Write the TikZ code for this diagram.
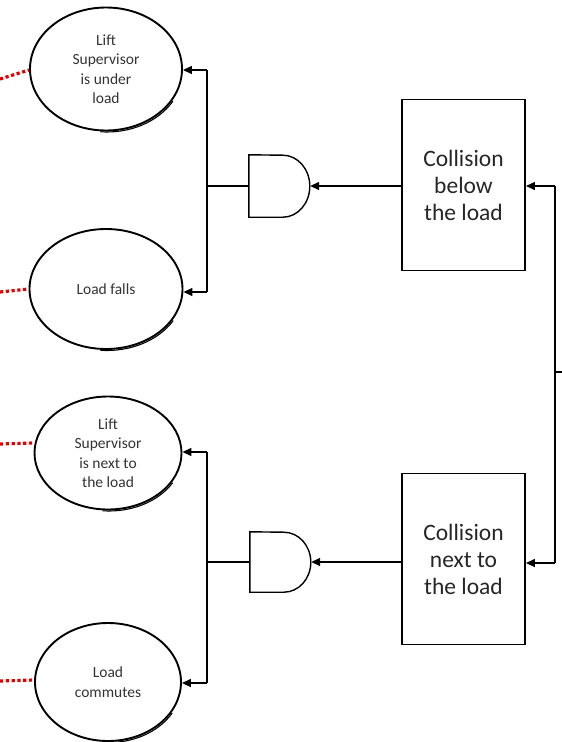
\documentclass[tikz,border=0pt]{standalone}
\usepackage{fontspec}
\setmainfont{Carlito}
\usetikzlibrary{shapes.geometric,arrows.meta,calc}
\begin{document}
\begin{tikzpicture}[x=1pt,y=1pt,
  evt/.style={ellipse,draw,line width=1.9pt,inner sep=0pt,align=center,font=\fontsize{15.5}{19.5}\selectfont,text=black!80},
  bx/.style={rectangle,draw,line width=1.9pt,minimum width=123pt,minimum height=171pt,align=center,inner sep=0pt,font=\fontsize{23.5}{27}\selectfont,text=black!85},
  gatebox/.style={rectangle,minimum width=61pt,minimum height=62pt,inner sep=0pt},
  gateline/.style={line width=1.4pt},
  wire/.style={line width=1.4pt},
  arr/.style={wire,-{Triangle[length=9pt,width=8pt]}},
  red dots/.style={red!90!black,line width=3.2pt,dash pattern=on 3.2pt off 2.6pt},
  shadowarc/.style={line width=1.1pt}
]
\useasboundingbox (0,0) rectangle (562,-742);

% events
\node[evt,minimum width=152pt,minimum height=123pt] (e1) at (106,-69) {Lift\\Supervisor\\is under\\load};
\node[evt,minimum width=153pt,minimum height=120pt] (e2) at (106,-289) {Load falls};
\node[evt,minimum width=147pt,minimum height=113pt] (e3) at (108,-453) {Lift\\Supervisor\\is next to\\the load};
\node[evt,minimum width=146pt,minimum height=118pt] (e4) at (108,-682) {Load\\commutes};

% shadow arcs
\draw[shadowarc] ($(e1.center)+(1,-1.5)+(-95:76 and 61.5)$) arc[start angle=-95,end angle=-30,x radius=76,y radius=61.5];
\draw[shadowarc] ($(e2.center)+(1,-1.5)+(-95:76.5 and 60)$) arc[start angle=-95,end angle=-30,x radius=76.5,y radius=60];
\draw[shadowarc] ($(e3.center)+(1,-1.5)+(-95:73.5 and 56.5)$) arc[start angle=-95,end angle=-30,x radius=73.5,y radius=56.5];
\draw[shadowarc] ($(e4.center)+(1,-1.5)+(-95:73 and 59)$) arc[start angle=-95,end angle=-30,x radius=73,y radius=59];

% boxes
\node[bx] (b1) at (463.5,-185) {Collision\\below\\the load};
\node[bx] (b2) at (463.5,-559) {Collision\\next to\\the load};

% gates
\node[gatebox] (g1) at (279.5,-186) {};
\node[gatebox] (g2) at (280.5,-562) {};
\draw[gateline] (g1.north west) -- (g1.south west) -- ++(34,0) arc[start angle=-90,end angle=90,x radius=27,y radius=31] -- cycle;
\draw[gateline] ([yshift=-1pt]g2.north west) -- ([yshift=1pt]g2.south west) -- ++(34,0) arc[start angle=-90,end angle=90,x radius=27,y radius=30] -- cycle;

% junctions
\coordinate (j1) at (207,-186);
\coordinate (j1t) at (207,-70);
\coordinate (j1b) at (207,-292);
\coordinate (j2) at (207,-562);
\coordinate (j2t) at (207,-452);
\coordinate (j2b) at (207,-683);
\coordinate (r1) at (555,-186);
\coordinate (r2) at (555,-563);
\coordinate (rm) at (555,-372);
\coordinate (rmo) at (562,-372);

\draw[wire] (g1.west) -- (j1);
\draw[wire] (j1t) -- (j1b);
\draw[arr] (j1t) -- (e1.east |- j1t);
\draw[arr] (j1b) -- (e2.east |- j1b);
\draw[wire] (g2.west) -- (j2);
\draw[wire] (j2t) -- (j2b);
\draw[arr] (j2t) -- (e3.east |- j2t);
\draw[arr] (j2b) -- (e4.east |- j2b);

\draw[arr] (b1.west |- g1.east) -- (g1.east);
\draw[arr] (b2.west |- g2.east) -- (g2.east);

\draw[wire] (r1) -- (r2);
\draw[arr] (r1) -- (b1.east |- r1);
\draw[arr] (r2) -- (b2.east |- r2);
\draw[wire] (rm) -- (rmo);

% red dotted links
\coordinate (d1) at (0,-79);
\coordinate (d2) at (0,-292);
\coordinate (d3) at (0,-444);
\coordinate (d4) at (0,-681);
\draw[red dots] (d1) -- (e1.west |- 0,-70);
\draw[red dots] (d2) -- (e2.west |- 0,-289);
\draw[red dots] (d3) -- (e3.west |- 0,-443);
\draw[red dots] (d4) -- (e4.west |- 0,-680);
\end{tikzpicture}
\end{document}
